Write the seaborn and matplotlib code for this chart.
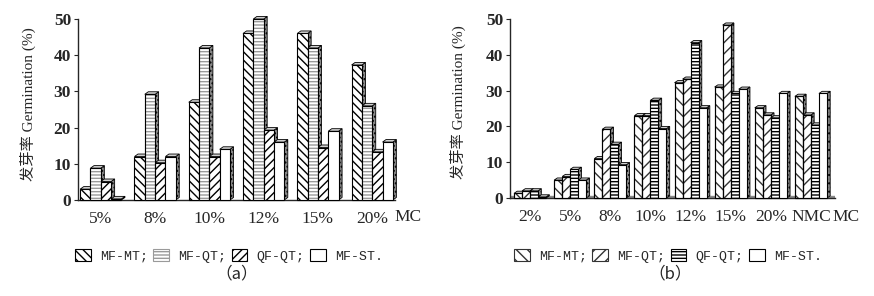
import numpy as np
import pandas as pd
import matplotlib
matplotlib.use("Agg")
import matplotlib.pyplot as plt
from matplotlib.patches import Polygon, Patch, Rectangle
import seaborn as sns

# data
series = ["MF-MT", "MF-QT", "QF-QT", "MF-ST"]

mc_a = ["5%", "8%", "10%", "12%", "15%", "20%"]
mfmt_a = [3, 12, 27, 46, 46, 37.3]
mfqt_a = [8.8, 29.2, 42, 50, 42, 26]
qfqt_a = [5.1, 10.3, 12, 19.3, 14.5, 13.3]
mfst_a = [0.3, 12, 14, 16, 19, 16]

mc_b = ["2%", "5%", "8%", "10%", "12%", "15%", "20%", "NMC"]
mfmt_b = [1.3, 5, 11, 23, 32.2, 31, 25.2, 28.4]
mfqt_b = [2, 6, 19.2, 23, 33.2, 48.3, 23.2, 23.2]
qfqt_b = [2, 8, 15, 27.3, 43.4, 29.2, 22.4, 20.4]
mfst_b = [0.3, 5, 9.3, 19.4, 25.2, 30.4, 29.2, 29.2]

hatch_a = ["\\\\\\\\", "-----", "////", ""]
hatch_b = ["\\\\\\", "///", "-----", ""]
# hatch colours: light grey horizontal lines in (a), dark ones in (b)
hcol_a = ["black", "#9a9a9a", "black", "black"]
hcol_b = ["#333333", "#333333", "black", "black"]

sns.set_style("white")
plt.rcParams["font.family"] = ["Liberation Serif", "Noto Sans CJK SC"]
plt.rcParams["hatch.linewidth"] = 1.0


def long_frame(mc, cols):
    rows = []
    for s, vals in zip(series, cols):
        for m, v in zip(mc, vals):
            rows.append({"mc": m, "series": s, "value": v})
    return pd.DataFrame(rows)


def draw_panel(ax, mc, cols, hatches, hcols, width, dx, dy):
    df = long_frame(mc, cols)
    sns.barplot(data=df, x="mc", y="value", hue="series", order=mc,
                hue_order=series, width=width, dodge=True, ax=ax,
                palette=["white"] * 4, saturation=1, legend=False,
                edgecolor="black", linewidth=0.8, zorder=3)
    for cont, h, hc in zip(ax.containers, hatches, hcols):
        for bar in cont:
            bar.set_hatch(h)
            bar.set_clip_on(False)
            x0 = bar.get_x()
            w = bar.get_width()
            top = bar.get_height()
            if hc != "black":
                # hatch takes the edge colour, so redraw a black outline on top
                bar.set_edgecolor(hc)
                ax.add_patch(Rectangle((x0, 0), w, top, fill=False, edgecolor="black",
                                       lw=0.8, zorder=3.5, clip_on=False))
            side = Polygon([(x0 + w, 0), (x0 + w + dx, dy), (x0 + w + dx, top + dy), (x0 + w, top)],
                           closed=True, facecolor="#8a8a8a", edgecolor="black", lw=0.6,
                           hatch="....", zorder=2, clip_on=False)
            lid = Polygon([(x0, top), (x0 + dx, top + dy), (x0 + w + dx, top + dy), (x0 + w, top)],
                          closed=True, facecolor="#d0d0d0", edgecolor="black", lw=0.6,
                          zorder=2, clip_on=False)
            ax.add_patch(side)
            ax.add_patch(lid)
    ax.set_ylim(0, 50)
    ax.set_yticks([0, 10, 20, 30, 40, 50])
    ax.set_xticks(np.arange(len(mc)) + 0.5, minor=True)
    ax.tick_params(axis="x", which="major", length=0, labelsize=12.5, pad=8)
    ax.tick_params(axis="x", which="minor", length=3, direction="inout")
    ax.tick_params(axis="y", length=3, direction="out", labelsize=12.5, pad=2, left=True)
    for lab in ax.get_yticklabels():
        lab.set_fontweight("bold")
    ax.set_xlabel("")
    ax.set_ylabel("")
    sns.despine(ax=ax)
    ax.spines["left"].set_linewidth(1.0)
    ax.spines["bottom"].set_linewidth(1.0)


fig = plt.figure(figsize=(8.74, 2.96), dpi=100)
ax_a = fig.add_axes([78 / 874, 1 - 200 / 296, 317 / 874, 181 / 296])
ax_b = fig.add_axes([510 / 874, 1 - 198 / 296, 325 / 874, 179 / 296])

draw_panel(ax_a, mc_a, [mfmt_a, mfqt_a, qfqt_a, mfst_a], hatch_a, hcol_a, 0.76, 0.065, 0.7)
ax_a.set_xlim(-0.42, 5.42)
draw_panel(ax_b, mc_b, [mfmt_b, mfqt_b, qfqt_b, mfst_b], hatch_b, hcol_b, 0.8, 0.08, 0.6)
ax_b.set_xlim(-0.5, 7.6)
ax_b.axhspan(0, 0.6, color="#8a8a8a", zorder=1)

ylab = "发芽率 Germination (%)"
fig.text(28 / 874, 1 - 104 / 296, ylab, rotation=90, ha="center", va="center", fontsize=11)
fig.text(458 / 874, 1 - 102 / 296, ylab, rotation=90, ha="center", va="center", fontsize=11)
fig.text(408 / 874, 1 - 217 / 296, "MC", ha="center", va="center", fontsize=12.5)
fig.text(846 / 874, 1 - 217 / 296, "MC", ha="center", va="center", fontsize=12.5)

labels = ["MF-MT;", "MF-QT;", "QF-QT;", "MF-ST."]
for cx, hatches, hcols in [(229, hatch_a, hcol_a), (668, hatch_b, hcol_b)]:
    handles = [Patch(facecolor="white", edgecolor=hc if hc != "black" else "black",
                     hatch=h, lw=0.8) for h, hc in zip(hatches, hcols)]
    fig.legend(handles, labels, loc="center", bbox_to_anchor=(cx / 874, 1 - 256 / 296),
               ncol=4, frameon=False, handlelength=1.2, handleheight=1.0, handletextpad=0.7,
               columnspacing=0.4, prop={"family": "Liberation Mono", "size": 9.5})

fig.text(237 / 874, 1 - 274 / 296, "（a）", ha="center", va="center", fontsize=12,
         family=["Noto Sans CJK SC", "Liberation Serif"])
fig.text(670 / 874, 1 - 274 / 296, "（b）", ha="center", va="center", fontsize=12,
         family=["Noto Sans CJK SC", "Liberation Serif"])

fig.savefig("out.png", dpi=100)
